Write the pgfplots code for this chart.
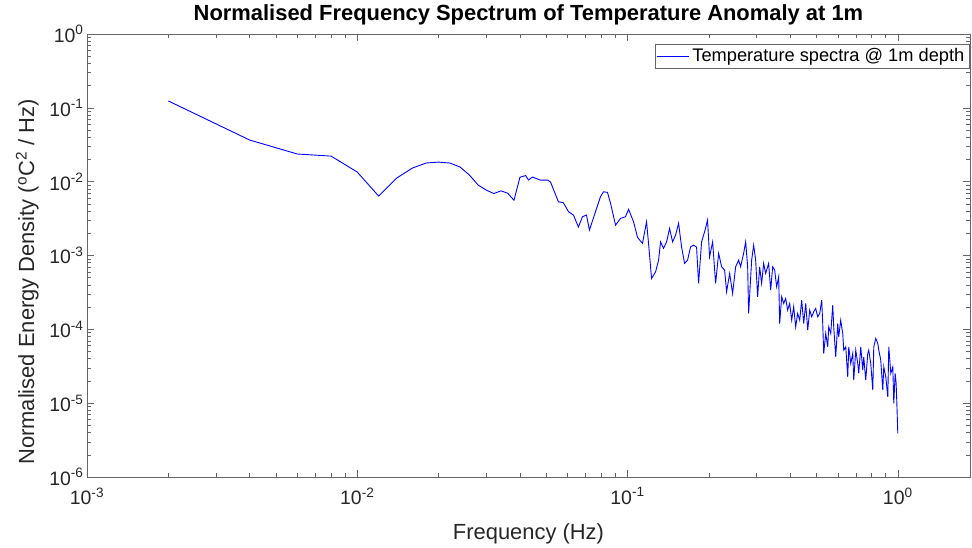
\documentclass[border=0pt]{standalone}
\usepackage{fontspec}
\setmainfont{Liberation Sans}
\usepackage{pgfplots}
\pgfplotsset{compat=1.18}
\usepackage{pgfplotstable}
\pgfplotstableread{
f v
0.002 0.124
0.004 0.0366
0.006 0.0237
0.008 0.0222
0.010 0.0135
0.012 0.00638
0.014 0.0112
0.016 0.0153
0.018 0.0179
0.020 0.0184
0.022 0.0179
0.024 0.0158
0.026 0.0123
0.028 0.0090
0.030 0.0077
0.032 0.0069
0.034 0.0075
0.036 0.0070
0.038 0.0056
0.040 0.0115
0.042 0.0121
0.0430 0.01051
0.0445 0.01154
0.0476 0.01051
0.0506 0.01051
0.0519 0.00988
0.0555 5.34e-3
0.0579 5.18e-3
0.0605 3.91e-3
0.0631 3.53e-3
0.0658 2.43e-3
0.0681 3.35e-3
0.0705 3.53e-3
0.0723 2.21e-3
0.0761 3.91e-3
0.0794 6.24e-3
0.0815 7.30e-3
0.0843 7.16e-3
0.0865 5.13e-3
0.0903 2.58e-3
0.0942 3.18e-3
0.0983 3.35e-3
0.1009 4.22e-3
0.1053 2.86e-3
0.1089 1.76e-3
0.1136 1.46e-3
0.1176 2.86e-3
0.1196 1.46e-3
0.1227 4.89e-4
0.1270 6.01e-4
0.1303 8.66e-4
0.1325 1.53e-3
0.1359 1.25e-3
0.1395 1.53e-3
0.1431 2.33e-3
0.1468 1.53e-3
0.1506 1.89e-3
0.1545 2.72e-3
0.1585 1.31e-3
0.1626 7.82e-4
0.1668 8.66e-4
0.1711 1.31e-3
0.1756 1.38e-3
0.1801 1.30e-3
0.1832 4.19e-4
0.1880 1.53e-3
0.1928 2.09e-3
0.1978 3.02e-3
0.2012 9.60e-4
0.2065 1.53e-3
0.2118 4.19e-4
0.2173 1.07e-3
0.2229 7.03e-4
0.2287 6.34e-4
0.2326 3.22e-4
0.2387 5.72e-4
0.2448 3.06e-4
0.2512 7.03e-4
0.2577 8.66e-4
0.2621 7.03e-4
0.2689 1.07e-3
0.2736 1.53e-3
0.2783 7.03e-4
0.2806 1.64e-4
0.2879 8.66e-4
0.2929 1.38e-3
0.2979 8.66e-4
0.3030 2.76e-4
0.3082 7.03e-4
0.3135 4.19e-4
0.3189 7.82e-4
0.3244 5.72e-4
0.3300 7.03e-4
0.3328 7.82e-4
0.3386 3.40e-4
0.3444 7.03e-4
0.3503 6.34e-4
0.3563 3.77e-4
0.3625 5.14e-4
0.3656 1.20e-4
0.3719 2.76e-4
0.3783 2.24e-4
0.3848 2.62e-4
0.3914 1.82e-4
0.3981 2.24e-4
0.4050 1.33e-4
0.4119 2.02e-4
0.4190 1.08e-4
0.4262 1.64e-4
0.4336 1.33e-4
0.4410 2.49e-4
0.4486 1.20e-4
0.4563 2.24e-4
0.4642 9.75e-5
0.4722 1.82e-4
0.4803 1.48e-4
0.4885 1.73e-4
0.4969 1.92e-4
0.5055 1.48e-4
0.5142 1.64e-4
0.5230 2.49e-4
0.5275 1.20e-4
0.5320 4.71e-5
0.5412 8.80e-5
0.5505 5.79e-5
0.5552 1.08e-4
0.5648 8.80e-5
0.5745 2.13e-4
0.5794 1.08e-4
0.5894 4.24e-5
0.5995 1.20e-4
0.6046 7.91e-5
0.6150 1.33e-4
0.6256 8.80e-5
0.6310 5.23e-5
0.6418 5.79e-5
0.6529 2.27e-5
0.6585 5.79e-5
0.6698 3.45e-5
0.6813 4.71e-5
0.6871 2.05e-5
0.6990 5.23e-5
0.7110 3.45e-5
0.7171 2.53e-5
0.7294 5.79e-5
0.7419 2.80e-5
0.7483 4.24e-5
0.7612 2.05e-5
0.7743 4.71e-5
0.7809 5.23e-5
0.7943 3.45e-5
0.8080 1.50e-5
0.8149 5.79e-5
0.8289 7.53e-5
0.8432 6.44e-5
0.8504 5.23e-5
0.8650 3.83e-5
0.8799 1.50e-5
0.8875 3.10e-5
0.9027 2.27e-5
0.9183 1.22e-5
0.9261 5.79e-5
0.9421 2.53e-5
0.9583 3.10e-5
0.9665 9.91e-6
0.978 2.53e-5
0.986 1.85e-5
0.993 8.91e-6
1.000 3.89e-6
}\spectrum
\begin{document}
\begin{tikzpicture}
\begin{axis}[
  at={(0,0)}, anchor=south west,
  width=883bp, height=443bp, scale only axis,
  xmode=log, ymode=log,
  xmin=1e-3, xmax=1.85, ymin=1e-6, ymax=1,
  xtick={1e-3,1e-2,1e-1,1},
  xticklabels={10\textsuperscript{-3},10\textsuperscript{-2},10\textsuperscript{-1},10\textsuperscript{0}},
  ytick={1e-6,1e-5,1e-4,1e-3,1e-2,1e-1,1},
  yticklabels={10\textsuperscript{-6},10\textsuperscript{-5},10\textsuperscript{-4},10\textsuperscript{-3},10\textsuperscript{-2},10\textsuperscript{-1},10\textsuperscript{0}},
  ticklabel style={font=\fontsize{19.5}{22}\selectfont, text=black!85},
  xticklabel style={yshift=-7bp},
  axis line style={black!60, line width=0.6bp},
  every tick/.style={black!60, line width=0.5bp},
  major tick length=7bp, minor tick length=4bp,
  title={Normalised Frequency Spectrum of Temperature Anomaly at 1m},
  title style={font=\fontsize{22}{26}\selectfont\bfseries, at={(axis description cs:0.5,1.018)}, anchor=base},
  xlabel={Frequency (Hz)},
  xlabel style={font=\fontsize{22}{26}\selectfont, text=black!85, at={(axis description cs:0.5,-0.142)}, anchor=base},
  ylabel={Normalised Energy Density (\textsuperscript{o}C\textsuperscript{2} / Hz)},
  ylabel style={font=\fontsize{22}{26}\selectfont, text=black!85, at={(axis description cs:-0.0600,0.44)}, anchor=base, rotate=0},
  legend style={at={(axis description cs:0.9989,0.9774)}, anchor=north east, draw=black!60, line width=0.5bp,
    font=\fontsize{18.3}{20}\selectfont, inner xsep=2bp, inner ysep=2bp, nodes={inner sep=2.5bp}},
  legend image code/.code={\draw[#1] (-3bp,0bp) -- (29bp,0bp);},
]
\addplot[color=blue, line width=0.9bp] table[x=f, y=v] {\spectrum};
\addlegendentry{Temperature spectra @ 1m depth}
\end{axis}
\pgfresetboundingbox
\path[use as bounding box] (-87bp,-71bp) rectangle (885bp,477bp);
\end{tikzpicture}
\end{document}
